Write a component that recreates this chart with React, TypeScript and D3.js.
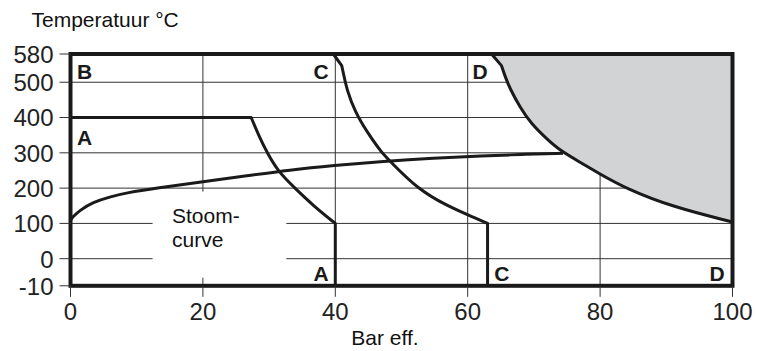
import React from 'react';
import * as d3 from 'd3';

const W = 757;
const H = 351;

const xTicks = [0, 20, 40, 60, 80, 100];
const yTicks = [-10, 0, 100, 200, 300, 400, 500, 580];
const xGrid = [20, 40, 60, 80];
const yGrid = [0, 100, 200, 300, 400, 500];

type P = [number, number];

// Limit A
const limitAFlat: P[] = [[0, 400], [27.3, 400]];
const limitACurve: P[] = [[27.3, 400], [28.4, 350], [29.7, 300], [31.4, 246], [33.9, 200], [36.7, 150], [40, 100]];
const limitADrop: P[] = [[40, 100], [40, -10]];

// Limit C
const limitCTop: P[] = [[39.7, 580], [40.97, 547]];
const limitCCurve: P[] = [[40.97, 547], [41.2, 528], [41.7, 481], [43.0, 415], [44.8, 359], [47.0, 300], [48.4, 274], [52.3, 200], [56.8, 150], [61.3, 114], [63, 100]];
const limitCDrop: P[] = [[63, 100], [63, -10]];

// Limit D
const limitDTop: P[] = [[63.6, 580], [65.1, 547]];
const limitDCurve: P[] = [[65.1, 547], [65.6, 519], [66.4, 481], [67.9, 429], [69.6, 382], [71.9, 340], [73.9, 307], [76.9, 274], [79.9, 241], [83.9, 199], [90.9, 147], [100, 104]];
const limitDCorner: P = [100, 580];

// Steam curve
const steamCurve: P[] = [[0, 108], [0.3, 118], [1.4, 137], [3.4, 160], [5.9, 175], [8.5, 187], [13, 200], [20, 218], [27.1, 236], [33, 251], [39.7, 264], [47.3, 276], [54.8, 285], [62.3, 291], [68, 295.5], [74.4, 299]];

// Letter markers
const topLetters = [
  { t: 'B', x: 1.0, anchor: 'start' },
  { t: 'C', x: 39.0, anchor: 'end' },
  { t: 'D', x: 63.0, anchor: 'end' },
];
const bottomLetters = [
  { t: 'A', x: 39.0, anchor: 'end' },
  { t: 'C', x: 64.0, anchor: 'start' },
  { t: 'D', x: 98.8, anchor: 'end' },
];
const steamLabel = ['Stoom-', 'curve'];
const labelBox = { x0: 12.4, x1: 32.6, y0: -7, y1: 190 };

const FONT = '"Liberation Sans", Arial, Helvetica, sans-serif';

export default function App() {
  const x = d3.scaleLinear().domain([0, 100]).range([70.5, 732.5]);
  const y = d3.scaleLinear().domain([-10, 0, 580]).range([285.8, 258.7, 54]);

  const lineLinear = d3.line<P>().x(d => x(d[0])).y(d => y(d[1]));
  const lineSmooth = d3.line<P>().x(d => x(d[0])).y(d => y(d[1])).curve(d3.curveBasis);

  const cont = (pts: P[]) => (lineSmooth(pts) || '').replace(/^M/, 'L');
  const contLin = (pts: P[]) => (lineLinear(pts) || '').replace(/^M/, 'L');
  const pathC = (lineLinear(limitCTop) || '') + cont(limitCCurve) + contLin(limitCDrop);
  const pathD = (lineLinear(limitDTop) || '') + cont(limitDCurve);
  const pathA = (lineLinear(limitAFlat) || '') + cont(limitACurve) + contLin(limitADrop);
  const shadePath = pathD + `L${x(limitDCorner[0])},${y(limitDCorner[1])}Z`;

  const x0 = x(0), x1 = x(100), yTop = y(580), yBot = y(-10);
  const ink = '#1a1a1a';

  return (
    <svg width={W} height={H} style={{ position: 'absolute', left: 0, top: 0, background: '#fff' }} fontFamily={FONT}>
      {/* gridlines */}
      {yGrid.map(v => (
        <line key={'gy' + v} x1={x0} x2={x1} y1={y(v)} y2={y(v)} stroke="#333" strokeWidth={1} />
      ))}
      {xGrid.map(v => (
        <line key={'gx' + v} x1={x(v)} x2={x(v)} y1={yTop} y2={yBot} stroke="#333" strokeWidth={1} />
      ))}
      {/* blank area behind steam label */}
      <rect x={x(labelBox.x0)} y={y(labelBox.y1)} width={x(labelBox.x1) - x(labelBox.x0)} height={y(labelBox.y0) - y(labelBox.y1)} fill="#fff" />

      {/* shaded region */}
      <path d={shadePath} fill="#d2d3d5" stroke="none" />

      {/* curves */}
      <g fill="none" stroke={ink} strokeWidth={3} strokeLinejoin="round">
        <path d={pathA} />
        <path d={pathC} />
        <path d={pathD} />
        <path d={lineSmooth(steamCurve) || ''} />
      </g>

      {/* frame */}
      <rect x={x0} y={yTop} width={x1 - x0} height={yBot - yTop} fill="none" stroke={ink} strokeWidth={4} />

      {/* ticks */}
      {yTicks.map(v => (
        <g key={'ty' + v}>
          <line x1={x0 - 11} x2={x0} y1={y(v)} y2={y(v)} stroke="#333" strokeWidth={1} />
          <text x={53.5} y={y(v) + 8.8} textAnchor="end" fontSize={24} fill="#222">{v}</text>
        </g>
      ))}
      {xTicks.map(v => (
        <g key={'tx' + v}>
          <line x1={x(v)} x2={x(v)} y1={yBot} y2={yBot + 11} stroke="#333" strokeWidth={1} />
          <text x={x(v)} y={320} textAnchor="middle" fontSize={24} fill="#222">{v}</text>
        </g>
      ))}

      {/* letters */}
      {topLetters.map(l => (
        <text key={'tl' + l.t} x={x(l.x)} y={79} textAnchor={l.anchor as any} fontSize={21} fontWeight="bold" fill={ink}>{l.t}</text>
      ))}
      <text x={x(1.0)} y={145} fontSize={21} fontWeight="bold" fill={ink}>A</text>
      {bottomLetters.map(l => (
        <text key={'bl' + l.t} x={x(l.x)} y={280.5} textAnchor={l.anchor as any} fontSize={21} fontWeight="bold" fill={ink}>{l.t}</text>
      ))}

      {/* steam label */}
      {steamLabel.map((s, i) => (
        <text key={s} x={172} y={223 + i * 24} fontSize={21} fill="#111">{s}</text>
      ))}

      {/* axis titles */}
      <text x={31.5} y={26.7} fontSize={21} fill="#111">Temperatuur °C</text>
      <text x={385} y={345} textAnchor="middle" fontSize={21} fill="#111">Bar eff.</text>
    </svg>
  );
}
